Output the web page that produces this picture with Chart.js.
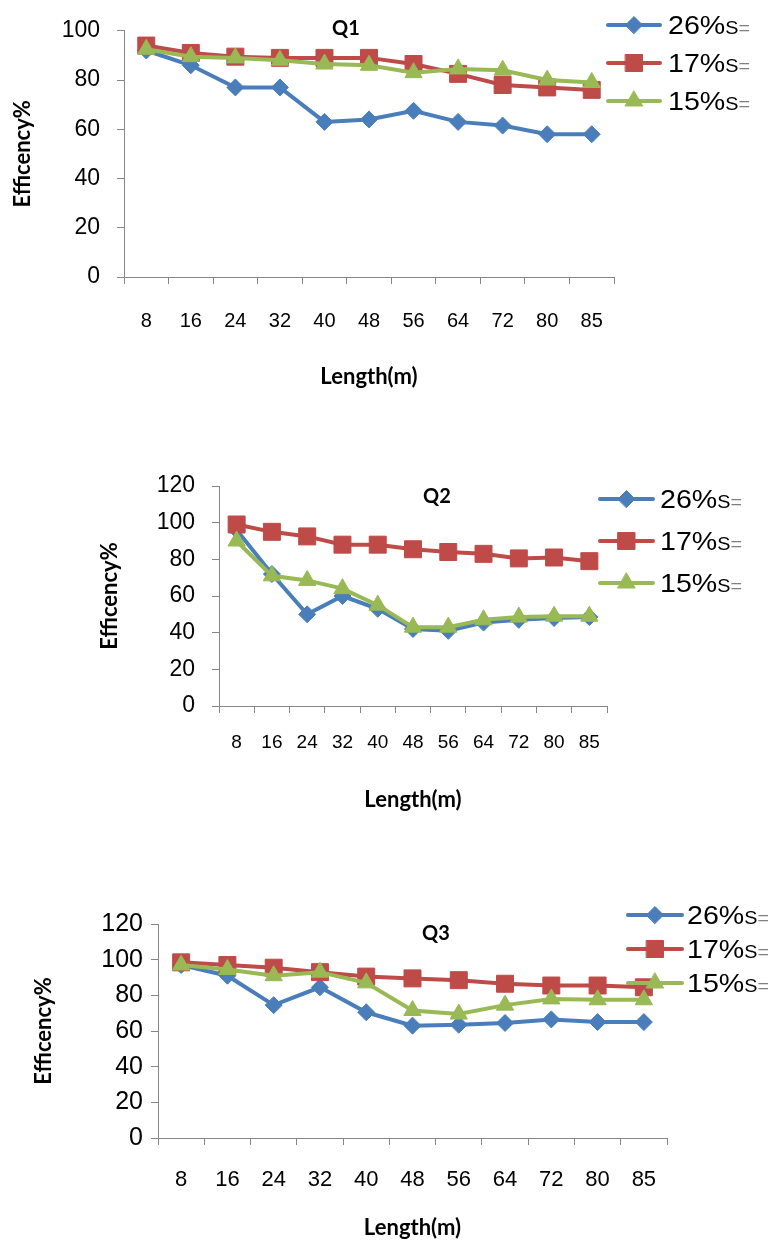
<!DOCTYPE html>
<html>
<head>
<meta charset="utf-8">
<title>Efficiency vs length</title>
<script src="https://cdn.jsdelivr.net/npm/chart.js@4.4.1/dist/chart.umd.min.js"></script>
<style>
  html, body { margin: 0; padding: 0; background: #fff; }
  body { width: 768px; height: 1247px; position: relative; overflow: hidden; }
  .panel { position: absolute; left: 0; width: 768px; }
</style>
</head>
<body>
<div class="panel" style="top:0;height:400px"><canvas id="q1"></canvas></div>
<div class="panel" style="top:440px;height:390px"><canvas id="q2"></canvas></div>
<div class="panel" style="top:870px;height:377px"><canvas id="q3"></canvas></div>
<script>
// pipe lengths along the x axis
const lengths = ['8', '16', '24', '32', '40', '48', '56', '64', '72', '80', '85'];
const slopeNames = ['26%', '17%', '15%'];

// Q1 efficiency (%)
const q1S26 = [92, 86, 77, 77, 63, 64, 67.5, 63, 61.5, 58, 58];
const q1S17 = [94, 91, 89.5, 89, 89, 89, 86.5, 82.5, 78, 77, 76];
const q1S15 = [92.5, 89.5, 89, 88, 86.5, 86, 83, 84.5, 84, 80, 79];

// Q2 efficiency (%)
const q2S26 = [96, 72, 50, 60, 53, 42, 41, 45.5, 47, 48, 48.5];
const q2S17 = [99, 95, 92.5, 88, 88, 85.5, 84, 83, 80.5, 81, 79];
const q2S15 = [90, 71, 68.5, 64, 55, 43, 43, 47, 48.5, 49, 49];

// Q3 efficiency (%)
const q3S26 = [97, 91, 74.5, 84.5, 70.5, 63, 63.5, 64.5, 66.5, 65, 65];
const q3S17 = [98.5, 97, 95.5, 93, 90.5, 89.5, 88.5, 86.5, 85.5, 85.5, 84.5];
const q3S15 = [97, 94.5, 91, 93, 87, 71.5, 69.5, 74.5, 78, 77.5, 77.5];

const yTicksQ1 = { max: 100, step: 20 };
const yTicksQ2 = { max: 120, step: 20 };
const yTicksQ3 = { max: 120, step: 20 };

const BLUE = '#4A7EBB';
const RED = '#BE4B48';
const GREEN = '#98B954';
const AXIS = '#868686';
const NUM_FONT = "'Liberation Sans', Arial, sans-serif";
const TITLE_FONT = "Lato, 'Open Sans', sans-serif";

function makeDatasets(s26, s17, s15) {
    const base = { borderWidth: 4, pointBorderWidth: 1, pointHoverRadius: 0 };
    return [
        Object.assign({}, base, { label: slopeNames[0], data: s26, borderColor: BLUE, backgroundColor: BLUE,
            pointStyle: 'rectRot', pointRadius: 8.5, order: 3 }),
        Object.assign({}, base, { label: slopeNames[1], data: s17, borderColor: RED, backgroundColor: RED,
            pointStyle: 'rect', pointRadius: 12, order: 2 }),
        Object.assign({}, base, { label: slopeNames[2], data: s15, borderColor: GREEN, backgroundColor: GREEN,
            pointStyle: 'triangle', pointRadius: 10, order: 1 })
    ];
}

// legend box: line with marker, then "26%" + small "S="
const seriesKey = {
    id: 'seriesKey',
    afterDraw(chart, args, opts) {
        const ctx = chart.ctx;
        const small = Math.round(opts.size * 0.68);
        ctx.save();
        chart.data.datasets.forEach((ds, i) => {
            const y = opts.y + i * opts.gap;
            ctx.strokeStyle = ds.borderColor;
            ctx.lineWidth = 4;
            ctx.lineCap = 'round';
            ctx.beginPath();
            ctx.moveTo(opts.x, y);
            ctx.lineTo(opts.x + opts.len, y);
            ctx.stroke();
            ctx.fillStyle = ds.backgroundColor;
            ctx.lineWidth = 1;
            Chart.helpers.drawPoint(ctx, { pointStyle: ds.pointStyle, radius: ds.pointRadius, rotation: 0, borderWidth: 1 },
                opts.x + opts.len / 2, y);

            // text is slightly widened, like the original legend
            ctx.save();
            ctx.translate(opts.textX, y + opts.size * 0.36);
            ctx.scale(1.1, 1);
            ctx.textBaseline = 'alphabetic';
            ctx.textAlign = 'left';
            ctx.fillStyle = '#000';
            ctx.font = opts.size + 'px ' + NUM_FONT;
            ctx.fillText(ds.label, 0, 0);
            let tx = ctx.measureText(ds.label).width;
            ctx.font = small + 'px ' + NUM_FONT;
            ctx.fillText('S', tx, 0);
            tx += ctx.measureText('S').width;
            ctx.fillStyle = '#7f7f7f';
            ctx.fillText('=', tx, 0);
            ctx.restore();
        });
        ctx.restore();
    }
};

// "Q1" style label inside the plot
const panelTitle = {
    id: 'panelTitle',
    afterDraw(chart, args, opts) {
        const ctx = chart.ctx;
        ctx.save();
        ctx.font = 'bold 20px ' + TITLE_FONT;
        ctx.fillStyle = '#000';
        ctx.textAlign = 'center';
        ctx.textBaseline = 'middle';
        ctx.fillText(opts.text, opts.x, opts.y);
        ctx.restore();
    }
};

function buildChart(id, cfg) {
    const a = cfg.area;
    return new Chart(document.getElementById(id), {
        type: 'line',
        data: { labels: lengths, datasets: makeDatasets(cfg.s26, cfg.s17, cfg.s15) },
        plugins: [seriesKey, panelTitle],
        options: {
            responsive: true,
            maintainAspectRatio: false,
            animation: false,
            events: [],
            layout: { padding: { left: 0, top: a.top, right: 768 - a.right, bottom: 0 } },
            elements: { line: { tension: 0 } },
            scales: {
                x: {
                    type: 'category',
                    offset: true,
                    afterFit: s => { s.height = cfg.height - a.bottom; },
                    grid: { offset: true, drawOnChartArea: false, tickLength: 7, color: AXIS },
                    border: { color: AXIS, width: 1 },
                    ticks: { color: '#000', font: { family: NUM_FONT, size: cfg.xSize },
                        padding: cfg.xPad, autoSkip: false, maxRotation: 0, minRotation: 0 },
                    title: { display: true, text: 'Length(m)', color: '#000',
                        font: { family: TITLE_FONT, size: 22, weight: 'bold' },
                        padding: { top: 0, bottom: cfg.xTitlePad } }
                },
                y: {
                    min: 0,
                    max: cfg.yTicks.max,
                    afterFit: s => { s.width = a.left; },
                    grid: { drawOnChartArea: false, tickLength: 7, color: AXIS },
                    border: { color: AXIS, width: 1 },
                    ticks: { stepSize: cfg.yTicks.step, color: '#000',
                        font: { family: NUM_FONT, size: cfg.ySize }, padding: cfg.yPad },
                    title: { display: true, text: 'Efficency%', color: '#000',
                        font: { family: TITLE_FONT, size: 22, weight: 'bold' },
                        padding: { top: cfg.yTitlePad, bottom: 0 } }
                }
            },
            plugins: {
                legend: { display: false },
                tooltip: { enabled: false },
                seriesKey: cfg.key,
                panelTitle: cfg.title
            }
        }
    });
}

buildChart('q1', {
    s26: q1S26, s17: q1S17, s15: q1S15, yTicks: yTicksQ1,
    height: 400, area: { left: 124, right: 614, top: 24, bottom: 277 },
    xSize: 20, ySize: 23, xPad: 25, yPad: 17, xTitlePad: 10, yTitlePad: 10,
    key: { x: 608, y: 25, gap: 38, len: 52, textX: 668, size: 26 },
    title: { text: 'Q1', x: 346, y: 29 }
});

buildChart('q2', {
    s26: q2S26, s17: q2S17, s15: q2S15, yTicks: yTicksQ2,
    height: 390, area: { left: 219, right: 607, top: 46, bottom: 266 },
    xSize: 19, ySize: 23, xPad: 18, yPad: 17, xTitlePad: 17, yTitlePad: 97,
    key: { x: 600, y: 59, gap: 42, len: 53, textX: 660, size: 26 },
    title: { text: 'Q2', x: 437, y: 57 }
});

buildChart('q3', {
    s26: q3S26, s17: q3S17, s15: q3S15, yTicks: yTicksQ3,
    height: 377, area: { left: 158, right: 667, top: 54, bottom: 268 },
    xSize: 22, ySize: 25, xPad: 22, yPad: 8, xTitlePad: 6, yTitlePad: 31,
    key: { x: 628, y: 45, gap: 34, len: 54, textX: 687, size: 26 },
    title: { text: 'Q3', x: 436, y: 64 }
});
</script>
</body>
</html>
